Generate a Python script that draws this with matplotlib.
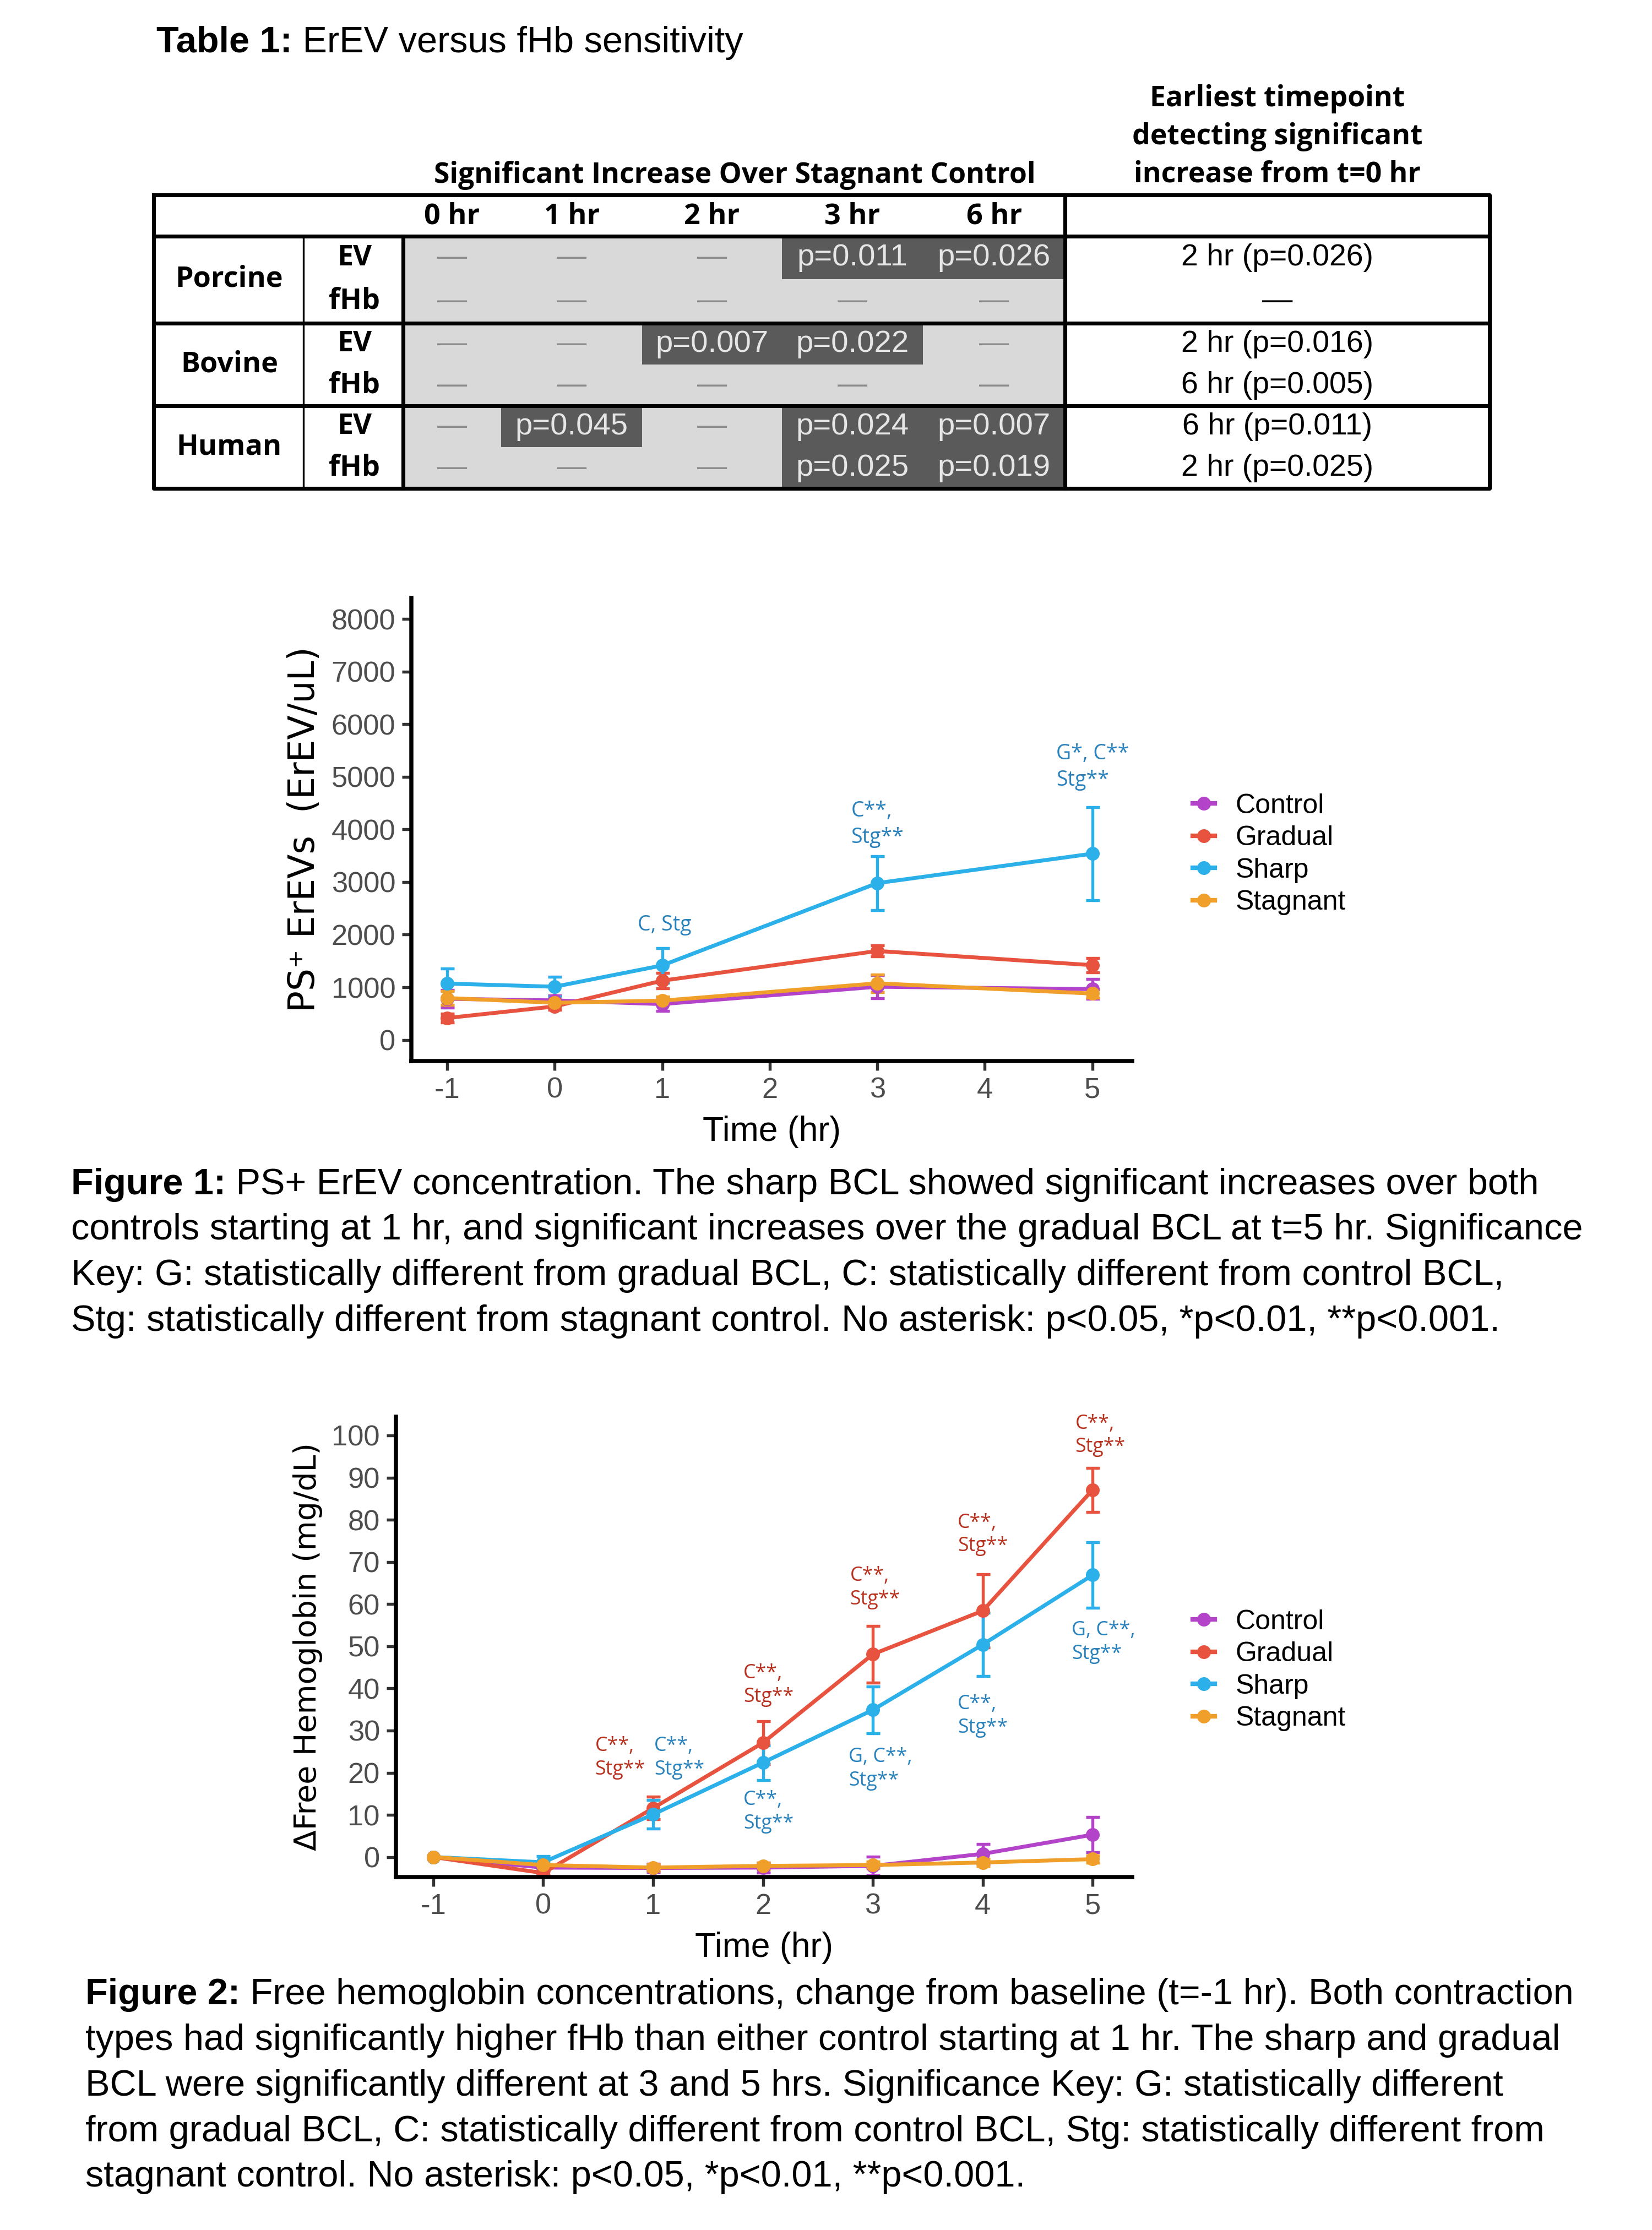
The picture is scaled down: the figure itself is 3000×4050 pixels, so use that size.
import numpy as np
import matplotlib
matplotlib.use("Agg")
import matplotlib.pyplot as plt
from matplotlib.patches import Rectangle
from matplotlib.lines import Line2D

plt.rcParams["axes.unicode_minus"] = False

# ---------------- data ----------------
# Table 1
timepoints = ["0 hr", "1 hr", "2 hr", "3 hr", "6 hr"]
species = ["Porcine", "Bovine", "Human"]
measures = ["EV", "fHb"]
pvals = [
    ["—", "—", "—", "p=0.011", "p=0.026"],      # Porcine EV
    ["—", "—", "—", "—", "—"],                  # Porcine fHb
    ["—", "—", "p=0.007", "p=0.022", "—"],      # Bovine EV
    ["—", "—", "—", "—", "—"],                  # Bovine fHb
    ["—", "p=0.045", "—", "p=0.024", "p=0.007"],  # Human EV
    ["—", "—", "—", "p=0.025", "p=0.019"],      # Human fHb
]
earliest = ["2 hr (p=0.026)", "—", "2 hr (p=0.016)", "6 hr (p=0.005)",
            "6 hr (p=0.011)", "2 hr (p=0.025)"]

groups = ["Control", "Gradual", "Sharp", "Stagnant"]
colors = ["#b344c9", "#e8533f", "#2bb0ea", "#f0a02a"]

# Figure 1: PS+ ErEVs (ErEV/uL)
time1 = [-1, 0, 1, 3, 5]
ev_mean = {
    "Control": [780, 750, 680, 1010, 965],
    "Gradual": [415, 635, 1125, 1690, 1420],
    "Sharp": [1070, 1010, 1415, 2980, 3540],
    "Stagnant": [795, 705, 745, 1075, 880],
}
ev_err = {
    "Control": [170, 90, 130, 220, 190],
    "Gradual": [80, 60, 145, 105, 140],
    "Sharp": [290, 185, 330, 515, 885],
    "Stagnant": [130, 80, 80, 170, 80],
}
ev_notes = [(1.02, 2180, "C, Stg"), (3.0, 4100, "C**,\nStg**"), (5.0, 5190, "G*, C**\nStg**")]

# Figure 2: delta free hemoglobin (mg/dL)
time2 = [-1, 0, 1, 2, 3, 4, 5]
hb_mean = {
    "Control": [0, -2.5, -2.6, -2.5, -2.1, 0.75, 5.3],
    "Gradual": [0, -3.8, 11.6, 27.1, 48.1, 58.4, 87.1],
    "Sharp": [0, -1.25, 10.1, 22.4, 34.9, 50.4, 66.9],
    "Stagnant": [0, -1.9, -2.5, -2.1, -1.9, -1.3, -0.5],
}
hb_err = {
    "Control": [0, 0.8, 1.0, 1.2, 2.2, 2.3, 4.2],
    "Gradual": [0, 0.6, 2.7, 5.1, 6.7, 8.7, 5.2],
    "Sharp": [0, 1.4, 3.4, 4.1, 5.6, 7.5, 7.8],
    "Stagnant": [0, 0.8, 0.8, 0.8, 0.8, 0.8, 0.8],
}
hb_notes_red = [(0.7, 23.5, "C**,\nStg**"), (2.05, 40.8, "C**,\nStg**"), (3.02, 63.9, "C**,\nStg**"),
                (4.0, 76.5, "C**,\nStg**"), (5.07, 100.0, "C**,\nStg**")]
hb_notes_blue = [(1.24, 23.5, "C**,\nStg**"), (2.05, 10.7, "C**,\nStg**"), (3.07, 20.9, "G, C**,\nStg**"),
                 (4.0, 33.5, "C**,\nStg**"), (5.1, 51.0, "G, C**,\nStg**")]

cap1 = [
    ("Figure 1:", " PS+ ErEV concentration. The sharp BCL showed significant increases over both"),
    ("", "controls starting at 1 hr, and significant increases over the gradual BCL at t=5 hr. Significance"),
    ("", "Key: G: statistically different from gradual BCL, C: statistically different from control BCL,"),
    ("", "Stg: statistically different from stagnant control. No asterisk: p<0.05, *p<0.01, **p<0.001."),
]
cap2 = [
    ("Figure 2:", " Free hemoglobin concentrations, change from baseline (t=-1 hr). Both contraction"),
    ("", "types had significantly higher fHb than either control starting at 1 hr. The sharp and gradual"),
    ("", "BCL were significantly different at 3 and 5 hrs. Significance Key: G: statistically different"),
    ("", "from gradual BCL, C: statistically different from control BCL, Stg: statistically different from"),
    ("", "stagnant control. No asterisk: p<0.05, *p<0.01, **p<0.001."),
]

# ---------------- page ----------------
W, H = 1160, 1566
fig = plt.figure(figsize=(10, 13.5), dpi=300)
page = fig.add_axes([0, 0, 1, 1])
page.set_xlim(0, W)
page.set_ylim(H, 0)
page.axis("off")
renderer = fig.canvas.get_renderer()

cap_font = "Liberation Sans"
tbl_font = "Open Sans"


def mixed_line(x, y, bold, rest, size=16):
    if bold:
        t = page.text(x, y, bold, fontsize=size, fontweight="bold", family=cap_font, va="center", ha="left")
        w = t.get_window_extent(renderer=renderer).width / fig.bbox.width * W
        x = x + w
    page.text(x, y, rest, fontsize=size, family=cap_font, va="center", ha="left")


mixed_line(110, 30, "Table 1:", " ErEV versus fHb sensitivity")

# ---------------- table ----------------
col_edges = [283, 352, 451, 549, 648, 748]
row_edges = [166, 196, 227, 256, 285, 314, 343]
page.add_patch(Rectangle((283, 166), 748 - 283, 343 - 166, color="#d9d9d9", lw=0))
for r, row in enumerate(pvals):
    for c, val in enumerate(row):
        xc = (col_edges[c] + col_edges[c + 1]) / 2
        yc = (row_edges[r] + row_edges[r + 1]) / 2
        if val != "—":
            page.add_patch(Rectangle((col_edges[c], row_edges[r]), col_edges[c + 1] - col_edges[c],
                                     row_edges[r + 1] - row_edges[r], color="#5a5a5a", lw=0))
            page.text(xc, yc, val, fontsize=13.5, family=cap_font, color="#e6e6e6", ha="center", va="center")
        else:
            page.text(xc, yc, val, fontsize=13, family=cap_font, color="#8c8c8c", ha="center", va="center")
    yc = (row_edges[r] + row_edges[r + 1]) / 2
    page.text(897, yc, earliest[r], fontsize=13.3, family=cap_font, color="black", ha="center", va="center")
    page.text(249, yc, measures[r % 2], fontsize=12.5, family=tbl_font, fontweight="bold", ha="center", va="center")

for i, sp in enumerate(species):
    page.text(161, row_edges[2 * i + 1], sp, fontsize=12.5, family=tbl_font, fontweight="bold",
              ha="center", va="center")
for c, tp in enumerate(timepoints):
    page.text((col_edges[c] + col_edges[c + 1]) / 2, 152, tp, fontsize=12.5, family=tbl_font,
              fontweight="bold", ha="center", va="center")

page.text(516, 123, "Significant Increase Over Stagnant Control", fontsize=12.4, family=tbl_font,
          fontweight="bold", ha="center", va="center")
page.text(897, 96, "Earliest timepoint\ndetecting significant\nincrease from t=0 hr", fontsize=12.4,
          family=tbl_font, fontweight="bold", ha="center", va="center", linespacing=1.4)

thick, thin = 1.7, 0.8
page.plot([108, 1046, 1046, 108, 108], [137, 137, 343, 343, 137], color="black", lw=thick)
for yy in [166, 227, 285]:
    page.plot([108, 1046], [yy, yy], color="black", lw=thick)
page.plot([748, 748], [137, 343], color="black", lw=thick)
page.plot([283, 283], [166, 343], color="black", lw=thick)
page.plot([213, 213], [166, 343], color="black", lw=thin)

# captions
for i, (b, rest) in enumerate(cap1):
    mixed_line(50, 832 + 32 * i, b, rest)
for i, (b, rest) in enumerate(cap2):
    mixed_line(60, 1401 + 32 * i, b, rest)


# ---------------- plots ----------------
def make_axes(left, right, top, bottom):
    return fig.add_axes([left / W, 1 - bottom / H, (right - left) / W, (bottom - top) / H])


def style(ax):
    for s in ["top", "right"]:
        ax.spines[s].set_visible(False)
    for s in ["left", "bottom"]:
        ax.spines[s].set_linewidth(1.8)
        ax.spines[s].set_color("black")
    ax.tick_params(axis="both", length=4, width=1.3, color="#333333", labelcolor="#4d4d4d",
                   labelsize=12.6, pad=3)
    for lab in ax.get_xticklabels() + ax.get_yticklabels():
        lab.set_family(cap_font)
    ax.set_xlabel("Time (hr)", fontsize=15, family=cap_font, labelpad=5)


def draw_series(ax, t, means, errs):
    for g, col in zip(groups, colors):
        ax.errorbar(t, means[g], yerr=errs[g], color=col, lw=1.7, marker="o", ms=5,
                    elinewidth=1.3, capsize=3, capthick=1.3)


def legend(ax, ymid):
    handles = [Line2D([], [], color=c, lw=2, marker="o", ms=5) for c in colors]
    ax.legend(handles, groups, loc="center left", bbox_to_anchor=(828 / W, 1 - ymid / H),
              bbox_transform=fig.transFigure, frameon=False, prop={"family": cap_font, "size": 12},
              handlelength=0.8, handletextpad=0.75, labelspacing=0.25, borderpad=0)


ax1 = make_axes(289, 795, 420, 745)
draw_series(ax1, time1, ev_mean, ev_err)
ax1.set_xlim(-1.33, 5.37)
ax1.set_ylim(-400, 8400)
ax1.set_xticks(range(-1, 6))
ax1.set_yticks(range(0, 8001, 1000))
style(ax1)
ax1.set_ylabel("PS⁺ ErEVs  (ErEV/uL)", fontsize=15.5, family="DejaVu Sans", labelpad=4)
for x, y, s in ev_notes:
    ax1.text(x, y, s, color="#2a82bd", fontsize=9, family=tbl_font, ha="center", va="center",
             multialignment="left", linespacing=1.35)
legend(ax1, 600)

ax2 = make_axes(278, 795, 995, 1318)
draw_series(ax2, time2, hb_mean, hb_err)
ax2.set_xlim(-1.34, 5.36)
ax2.set_ylim(-4.7, 104.4)
ax2.set_xticks(range(-1, 6))
ax2.set_yticks(range(0, 101, 10))
style(ax2)
ax2.set_ylabel("ΔFree Hemoglobin (mg/dL)", fontsize=13.3, family="DejaVu Sans", labelpad=4)
for x, y, s in hb_notes_red:
    ax2.text(x, y, s, color="#b8321f", fontsize=8.6, family=tbl_font, ha="center", va="center",
             multialignment="left", linespacing=1.25)
for x, y, s in hb_notes_blue:
    ax2.text(x, y, s, color="#2a82bd", fontsize=8.6, family=tbl_font, ha="center", va="center",
             multialignment="left", linespacing=1.25)
legend(ax2, 1173)

fig.savefig("out.png", dpi=300, facecolor="white")
